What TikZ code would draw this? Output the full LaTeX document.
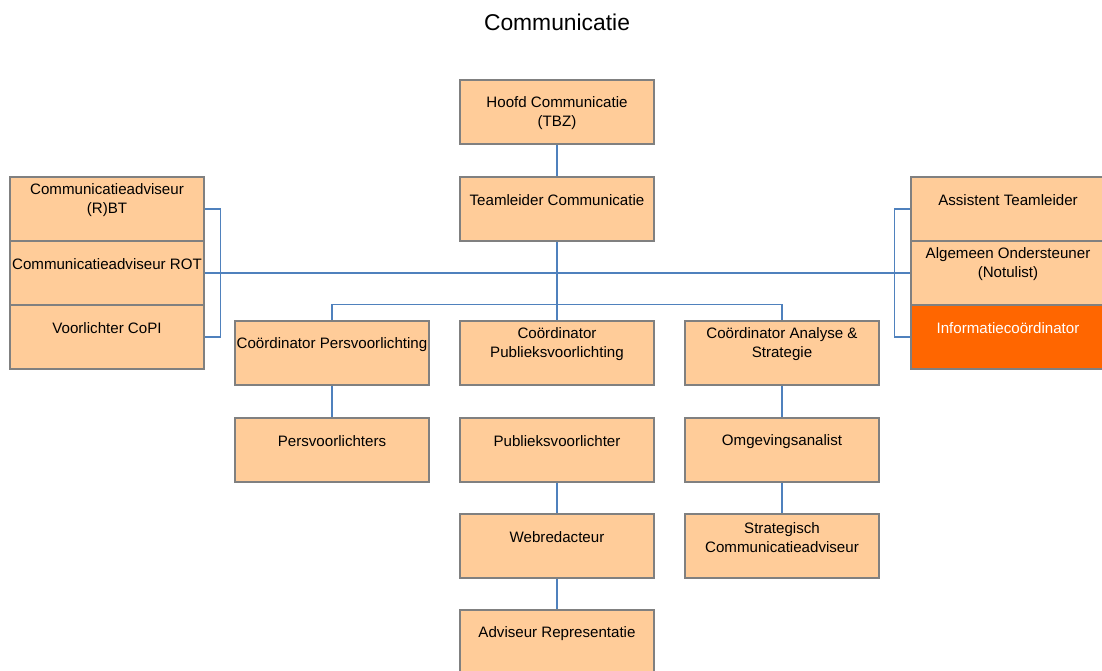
\documentclass[tikz,border=0pt]{standalone}
\usepackage{fontspec}
\setmainfont{Liberation Sans}
\usetikzlibrary{positioning, calc}

\definecolor{peach}{RGB}{255,204,153}
\definecolor{infoorange}{RGB}{255,102,0}
\definecolor{linkblue}{RGB}{79,129,189}
\definecolor{boxgray}{RGB}{128,128,128}

\begin{document}
\begin{tikzpicture}[
    x=0.02cm, y=-0.02cm,
    box/.style={draw=boxgray, line width=0.8pt, rectangle, fill=peach, minimum width=3.88cm, minimum height=1.28cm, inner sep=0pt},
    hot_box/.style={box, fill=infoorange},
    link/.style={draw=linkblue, line width=0.6pt},
    box_text/.style={font=\fontsize{8.6}{10.8}\selectfont, align=center, inner sep=0pt},
    title_font/.style={font=\fontsize{13}{15}\selectfont}
]
\useasboundingbox (0,0) rectangle (1102,671);
\clip (0,0) rectangle (1102,671);

% 1. Title
\node[title_font] (title) at (557,22) {Communicatie};

% 2. Central column
\node[box] (hoofd) at (557,112) {};
\node[box] (team) at (557,209) {};
\node[box_text] (hoofd_t) at ([yshift=-0.02cm]hoofd.center) {Hoofd Communicatie\\(TBZ)};
\node[box_text] (team_t) at ([yshift=0.17cm]team.center) {Teamleider Communicatie};

% 3. Left stack
\node[box] (rbt) at (107,209) {};
\node[box] (rot) at (107,273) {};
\node[box] (copi) at (107,337) {};
\node[box_text] (rbt_t) at ([yshift=0.17cm]rbt.center) {Communicatieadviseur\\(R)BT};
\node[box_text] (rot_t) at ([yshift=0.17cm]rot.center) {Communicatieadviseur ROT};
\node[box_text] (copi_t) at ([yshift=0.17cm]copi.center) {Voorlichter CoPI};

% 4. Right stack
\node[box] (assist) at (1008,209) {};
\node[box] (alg) at (1008,273) {};
\node[hot_box] (info) at (1008,337) {};
\node[box_text] (assist_t) at ([yshift=0.17cm]assist.center) {Assistent Teamleider};
\node[box_text] (alg_t) at ([yshift=0.17cm]alg.center) {Algemeen Ondersteuner\\(Notulist)};
\node[box_text, text=white] (info_t) at ([yshift=0.17cm]info.center) {Informatieco\"ordinator};

% 5. Coordinators
\node[box] (coordpers) at (332,353) {};
\node[box] (coordpub) at (557,353) {};
\node[box] (coordana) at (782,353) {};
\node[box_text] (coordpers_t) at ([yshift=0.17cm]coordpers.center) {Coördinator Persvoorlichting};
\node[box_text] (coordpub_t) at ([yshift=0.17cm]coordpub.center) {Coördinator\\Publieksvoorlichting};
\node[box_text] (coordana_t) at ([yshift=0.17cm]coordana.center) {Coördinator Analyse \&\\Strategie};

% 6. Lower rows
\node[box] (persv) at (332,450) {};
\node[box] (publ) at (557,450) {};
\node[box] (omg) at (782,450) {};
\node[box] (web) at (557,546) {};
\node[box] (strat) at (782,546) {};
\node[box] (adv) at (557,642) {};
\node[box_text] (persv_t) at ([yshift=0.17cm]persv.center) {Persvoorlichters};
\node[box_text] (publ_t) at ([yshift=0.17cm]publ.center) {Publieksvoorlichter};
\node[box_text] (omg_t) at ([yshift=0.17cm]omg.center) {Omgevingsanalist};
\node[box_text] (web_t) at ([yshift=0.17cm]web.center) {Webredacteur};
\node[box_text] (strat_t) at ([yshift=0.17cm]strat.center) {Strategisch\\Communicatieadviseur};
\node[box_text] (adv_t) at ([yshift=0.17cm]adv.center) {Adviseur Representatie};

% 7. Connectors
\draw[link] (hoofd) -- (team);
\draw[link] (team) -- (coordpub);
\draw[link] (rot.east) -- (alg.west);
\draw[link] (rbt.east) -- ++(16,0) |- (copi.east);
\draw[link] (assist.west) -- ++(-16,0) |- (info.west);
\draw[link] (coordpers.north) -- ++(0,-16) -| (coordana.north);
\draw[link] (coordpers) -- (persv);
\draw[link] (coordana) -- (omg);
\draw[link] (omg) -- (strat);
\draw[link] (publ) -- (web);
\draw[link] (web) -- (adv);

\end{tikzpicture}
\end{document}
